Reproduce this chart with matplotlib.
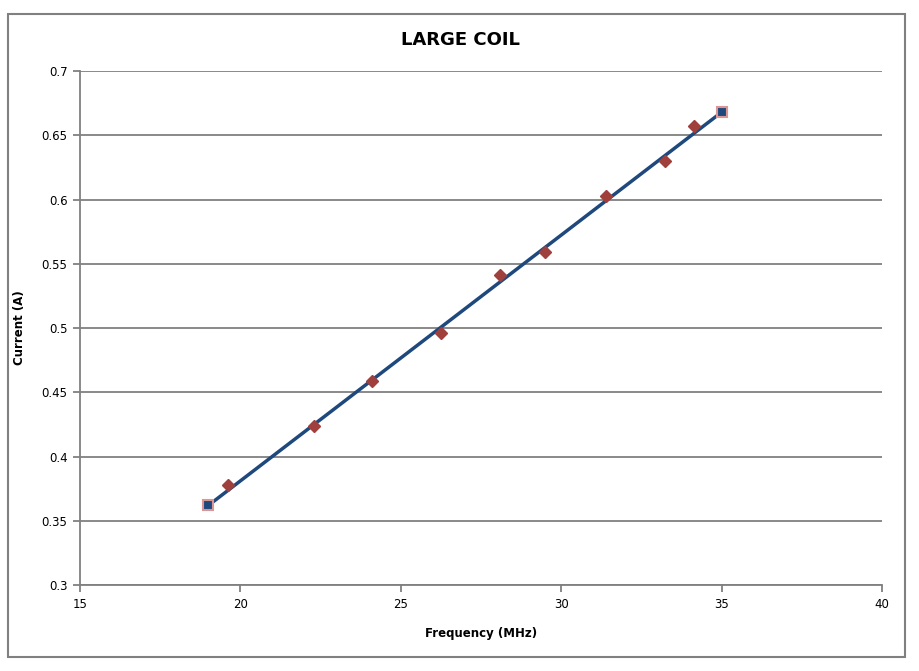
import matplotlib
matplotlib.use('Agg')
import matplotlib.pyplot as plt
from matplotlib.patches import Rectangle

# measured data (frequency MHz, current A)
freq = [19.6, 22.3, 24.1, 26.25, 28.1, 29.5, 31.4, 33.25, 34.15]
current = [0.378, 0.424, 0.459, 0.496, 0.541, 0.559, 0.603, 0.630, 0.657]

# fit line endpoints
fit_freq = [19.0, 35.0]
fit_current = [0.362, 0.668]

fig = plt.figure(figsize=(9.2, 6.71), dpi=100, facecolor='w')
ax = fig.add_axes([0.087, 0.128, 0.8716, 0.766])

# outer chart border
fig.patches.append(Rectangle((8/920, 14/671), 897/920, 643/671, transform=fig.transFigure,
                             fill=False, edgecolor='#808080', linewidth=1.5))

ax.plot(fit_freq, fit_current, color='#1F497D', linewidth=2.5, marker='s', markersize=7,
        markerfacecolor='#1F497D', markeredgecolor='#D99694', markeredgewidth=1.5, zorder=3)
ax.plot(freq, current, linestyle='none', marker='D', markersize=6, color='#A0403C', zorder=4)

ax.set_xlim(15, 40)
ax.set_ylim(0.3, 0.7)
ax.set_xticks([15, 20, 25, 30, 35, 40])
ax.set_yticks([0.3, 0.35, 0.4, 0.45, 0.5, 0.55, 0.6, 0.65, 0.7])
ax.set_xticklabels(['15', '20', '25', '30', '35', '40'])
ax.set_yticklabels(['0.3', '0.35', '0.4', '0.45', '0.5', '0.55', '0.6', '0.65', '0.7'])
ax.yaxis.grid(True, color='#808080', linewidth=1.3)
ax.set_axisbelow(True)

for s in ['top', 'right']:
    ax.spines[s].set_visible(False)
for s in ['left', 'bottom']:
    ax.spines[s].set_color('#808080')
    ax.spines[s].set_linewidth(1.3)
ax.tick_params(direction='out', length=5, color='#808080', width=1.3, labelsize=8.5, pad=4)

ax.set_xlabel('Frequency (MHz)', fontsize=8.5, fontweight='bold', labelpad=12)
ax.set_ylabel('Current (A)', fontsize=8.5, fontweight='bold')
ax.yaxis.set_label_coords(-0.068, 0.5)
fig.text(0.5, 0.94, 'LARGE COIL', ha='center', va='center', fontsize=13, fontweight='bold',
         family=['Liberation Sans Narrow', 'DejaVu Sans'])

fig.savefig('out.png', dpi=100)
